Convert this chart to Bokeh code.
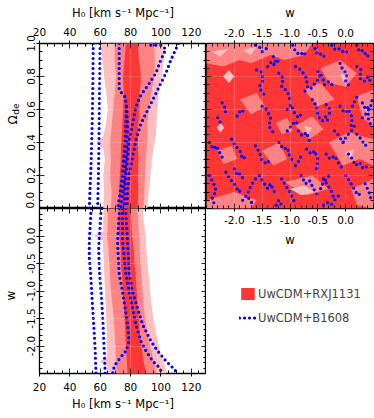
import numpy as np
from bokeh.plotting import figure
from bokeh.models import LinearAxis, FixedTicker, Range1d, Label, Legend, LegendItem
from bokeh.layouts import row, column
from bokeh.embed import file_html
from bokeh.resources import INLINE

FONT = "DejaVu Sans"
LIGHT = "#ffbdbd"
MED = "#ff8383"
DARK = "#ff3636"
BLUE = "#0000ff"

# ---------------- axes ----------------
h0_lim = [20, 130]
om_lim = [0.0, 1.0]
w_lim = [-2.5, 0.5]
h0_ticks = [20, 40, 60, 80, 100, 120]
h0_tick_labels = ["20", "40", "60", "80", "100", "120"]
om_ticks = [0.0, 0.2, 0.4, 0.6, 0.8, 1.0]
om_tick_labels = ["0.0", "0.2", "0.4", "0.6", "0.8", "1.0"]
w_ticks = [-2.0, -1.5, -1.0, -0.5, 0.0]
w_tick_labels = ["-2.0", "-1.5", "-1.0", "-0.5", "0.0"]
h0_minor = [float(v) for v in np.arange(20, 131, 5)]
om_minor = [round(float(v), 2) for v in np.arange(0, 1.001, 0.05)]
w_minor = [round(float(v), 1) for v in np.arange(-2.5, 0.501, 0.1)]
h0_title = "H\u2080 [km s\u207b\u00b9 Mpc\u207b\u00b9]"
om_title = ["\u03a9", "de"]
w_title = "w"

# ---------------- RXJ1131 : H0 vs Omega_de ----------------
rxj_a_light_om = [0.0, 0.1, 0.2, 0.3, 0.36, 0.4, 0.44, 0.5, 0.6, 0.7, 0.8, 0.9, 1.0]
rxj_a_light_lo = [62.0, 62.5, 62.0, 63.0, 62.0, 57.5, 62.0, 63.5, 65.0, 64.0, 62.5, 61.5, 61.0]
rxj_a_light_hi = [91.0, 92.0, 93.0, 94.0, 95.0, 96.0, 96.5, 97.0, 97.5, 98.5, 100.5, 102.0, 101.5]
rxj_a_med_om = [0.0, 0.1, 0.2, 0.3, 0.4, 0.5, 0.6, 0.7, 0.8, 0.9, 1.0]
rxj_a_med_lo = [67.0, 67.5, 66.5, 67.0, 66.5, 67.5, 68.5, 69.5, 70.5, 69.5, 69.5]
rxj_a_med_hi = [88.5, 89.0, 89.5, 90.0, 91.0, 91.0, 92.0, 93.5, 95.5, 96.0, 95.5]
rxj_a_dark_om = [0.0, 0.1, 0.2, 0.3, 0.4, 0.5, 0.6, 0.7, 0.8, 0.9, 1.0]
rxj_a_dark_lo = [71.8, 72.5, 72.8, 73.5, 73.8, 74.5, 75.0, 75.5, 75.0, 76.0, 77.0]
rxj_a_dark_hi = [84.7, 85.0, 84.8, 85.2, 84.7, 85.0, 85.8, 86.0, 86.9, 85.5, 84.7]

# ---------------- RXJ1131 : H0 vs w ----------------
rxj_c_light_w = [0.5, 0.3, 0.08, 0.0, -0.08, -0.3, -0.6, -0.9, -1.2, -1.5, -1.8, -2.1, -2.2, -2.28, -2.36, -2.5]
rxj_c_light_lo = [62.5, 62.0, 62.0, 55.5, 61.8, 62.0, 62.5, 63.0, 63.5, 64.0, 64.5, 64.5, 64.5, 59.5, 64.5, 65.5]
rxj_c_light_hi = [88.0, 88.5, 89.5, 90.0, 90.0, 90.5, 91.5, 92.5, 93.5, 95.0, 97.0, 99.5, 100.5, 101.5, 102.5, 103.5]
rxj_c_med_w = [0.5, 0.25, 0.0, -0.25, -0.5, -0.75, -1.0, -1.25, -1.5, -1.75, -2.0, -2.25, -2.5]
rxj_c_med_lo = [65.0, 65.0, 64.5, 65.5, 66.0, 66.5, 67.0, 68.0, 69.0, 69.5, 70.0, 70.5, 70.5]
rxj_c_med_hi = [84.5, 85.0, 85.5, 86.0, 86.5, 87.0, 88.0, 88.5, 89.5, 91.0, 92.5, 95.0, 97.0]
rxj_c_dark_w = [0.5, 0.25, 0.0, -0.25, -0.5, -0.75, -1.0, -1.25, -1.5, -1.75, -2.0, -2.25, -2.5]
rxj_c_dark_lo = [72.5, 72.0, 72.5, 73.5, 73.5, 74.5, 75.0, 75.5, 76.0, 76.5, 77.0, 77.5, 78.0]
rxj_c_dark_hi = [80.0, 80.5, 81.0, 82.0, 82.5, 83.5, 84.0, 84.5, 85.5, 86.0, 87.0, 88.5, 90.0]

# ---------------- RXJ1131 : w vs Omega_de (mottled) ----------------
rxj_b_med_w = [
    [-2.5, -0.6, -0.75, -1.1, -1.35, -1.7, -1.9, -2.2, -2.5],
    [-0.45, -0.1, 0.2, 0.0, -0.3],
    [0.2, 0.5, 0.5, 0.3],
    [-1.9, -1.6, -1.45, -1.7],
    [-0.9, -0.6, -0.4, -0.65],
    [-0.3, 0.05, 0.5, 0.5, 0.25, -0.05],
    [-2.5, -2.0, -1.6, -1.7, -2.5],
    [-1.1, -0.6, -0.3, -0.7],
    [0.1, 0.5, 0.5, 0.2],
    [-1.5, -1.2, -1.05, -1.3],
    [-2.3, -2.05, -1.95, -2.2],
    [-0.75, -0.45, -0.2, -0.5],
    [-1.25, -1.05, -0.95, -1.15],
]
rxj_b_med_om = [
    [1.0, 1.0, 0.93, 0.90, 0.93, 0.88, 0.90, 0.86, 0.88],
    [0.85, 0.90, 0.82, 0.74, 0.76],
    [0.68, 0.72, 0.50, 0.55],
    [0.66, 0.70, 0.62, 0.57],
    [0.50, 0.56, 0.48, 0.42],
    [0.40, 0.46, 0.42, 0.26, 0.30, 0.26],
    [0.05, 0.10, 0.05, 0.0, 0.0],
    [0.16, 0.20, 0.12, 0.08],
    [0.12, 0.18, 0.0, 0.02],
    [0.35, 0.40, 0.30, 0.26],
    [0.35, 0.38, 0.30, 0.27],
    [0.72, 0.76, 0.66, 0.62],
    [0.52, 0.55, 0.47, 0.45],
]
rxj_b_light_w = [
    [-2.1, -2.0, -2.1, -2.2],
    [-2.25, -2.18, -2.25, -2.32],
    [-0.1, 0.05, -0.05],
    [0.35, 0.45, 0.4],
    [-0.75, -0.6, -0.68],
    [-1.0, -0.75, -0.55, -0.8],
    [-1.85, -1.6, -1.7],
    [0.0, 0.15, 0.1],
    [-2.4, -2.1, -2.25],
]
rxj_b_light_om = [
    [0.84, 0.80, 0.76, 0.80],
    [0.52, 0.49, 0.46, 0.49],
    [0.82, 0.80, 0.77],
    [0.62, 0.60, 0.56],
    [0.50, 0.49, 0.45],
    [0.12, 0.14, 0.10, 0.08],
    [0.96, 0.98, 0.93],
    [0.34, 0.36, 0.30],
    [0.95, 0.97, 0.92],
]

# ---------------- B1608 : H0 vs Omega_de ----------------
b16_a_h0 = [
    [55.4, 55.2, 54.9, 54.5, 53.9, 53.2, 52.8],
    [59.9, 59.7, 59.4, 59.2, 58.8, 58.3],
    [72.5, 72.5, 72.5, 72.5, 76.4, 77.3, 76.4, 75.1, 73.6, 71.6],
    [77.3, 78.0, 77.3, 75.8, 73.6],
    [93.3, 96.6, 100.6, 103.2, 99.9, 96.6, 92.3, 86.8, 83.5, 81.3, 79.1, 78.0, 77.0, 76.2, 75.8],
    [111.5, 106.5, 103.2, 97.7, 92.3, 86.8, 83.5, 81.3, 79.1, 78.0, 77.6],
]
b16_a_om = [
    [1.0, 0.8, 0.6, 0.45, 0.25, 0.1, 0.0],
    [1.0, 0.8, 0.6, 0.4, 0.2, 0.0],
    [1.0, 0.9, 0.82, 0.717, 0.677, 0.616, 0.413, 0.251, 0.13, 0.0],
    [0.616, 0.495, 0.353, 0.17, 0.0],
    [0.99, 0.99, 0.99, 0.965, 0.90, 0.819, 0.758, 0.687, 0.616, 0.515, 0.413, 0.312, 0.211, 0.109, 0.0],
    [1.0, 0.90, 0.819, 0.717, 0.616, 0.515, 0.413, 0.312, 0.211, 0.109, 0.0],
]

# ---------------- B1608 : H0 vs w ----------------
b16_c_h0 = [
    [54.2, 53.9, 52.8, 52.8, 53.7, 55.0, 56.1, 56.7, 57.2],
    [60.8, 60.5, 59.0, 59.4, 60.5, 61.6, 62.6, 63.3],
    [72.5, 72.5, 71.4, 72.5, 74.7, 76.4, 78.0, 79.1, 76.9, 72.5, 69.3, 68.2],
    [74.7, 74.7, 74.7, 76.9, 79.1, 81.3, 83.5, 86.8, 90.1, 94.5, 98.8, 101.0],
    [76.9, 76.9, 78.0, 79.1, 81.3, 84.6, 87.9, 93.4, 97.8, 103.2, 108.7, 110.9],
]
b16_c_w = [
    [0.5, 0.43, -0.1, -0.4, -0.7, -1.31, -1.79, -2.09, -2.5],
    [0.5, 0.43, -0.22, -0.6, -1.01, -1.46, -2.07, -2.5],
    [0.5, 0.41, -0.10, -0.70, -1.01, -1.31, -1.61, -1.91, -2.09, -2.24, -2.36, -2.5],
    [0.5, 0.41, -0.10, -0.70, -1.01, -1.31, -1.61, -1.91, -2.09, -2.27, -2.39, -2.5],
    [0.5, 0.41, -0.10, -0.70, -1.01, -1.31, -1.61, -1.91, -2.09, -2.27, -2.42, -2.5],
]

# ---------------- B1608 : w vs Omega_de (noisy contour fragments) ----------------
b16_b_w = [
    [-1.62, -1.55, -1.5, -1.42], [-1.3, -1.25, -1.2],
    [-0.95, -0.9, -0.82, -0.75, -0.7], [-0.55, -0.5, -0.42, -0.35],
    [-0.25, -0.18, -0.1, -0.02, 0.05], [0.2, 0.25, 0.32, 0.38, 0.45],
    [-1.6, -1.52, -1.48, -1.55, -1.5, -1.42], [-1.2, -1.12, -1.15, -1.05, -1.0],
    [-0.9, -0.8, -0.72, -0.68, -0.75], [-0.5, -0.42, -0.38, -0.3, -0.22],
    [-0.1, -0.05, 0.02, 0.0, 0.08], [0.2, 0.28, 0.25, 0.33, 0.4, 0.46],
    [-2.22, -2.15, -2.18], [-1.95, -1.88, -1.8],
    [-1.5, -1.42, -1.35, -1.38, -1.3], [-1.05, -0.98, -0.92, -0.85, -0.78],
    [-0.6, -0.52, -0.5, -0.42, -0.35, -0.3], [-0.1, -0.02, 0.05, 0.12, 0.1],
    [0.3, 0.36, 0.42, 0.4, 0.46], [-0.85, -0.78, -0.7, -0.65],
    [-0.2, -0.12, -0.05, 0.02], [0.2, 0.28, 0.35, 0.42],
    [-2.45, -2.38, -2.32, -2.25, -2.2], [-2.05, -1.98, -1.9, -1.85, -1.78],
    [-1.62, -1.55, -1.5, -1.42, -1.35], [-1.2, -1.12, -1.05, -1.0, -0.92],
    [-0.7, -0.62, -0.55, -0.5, -0.52], [-0.35, -0.28, -0.2, -0.12, -0.05],
    [0.05, 0.12, 0.18, 0.25, 0.32, 0.4], [-2.45, -2.38, -2.33, -2.4, -2.35],
    [-2.15, -2.08, -2.0, -1.92, -1.85], [-1.85, -1.78, -1.7, -1.65],
    [-1.55, -1.48, -1.4, -1.35, -1.28], [-1.15, -1.08, -1.0, -0.95, -0.9],
    [-0.8, -0.72, -0.65, -0.58, -0.5], [-0.4, -0.32, -0.25, -0.2, -0.12],
    [0.0, 0.08, 0.15, 0.22, 0.3], [0.35, 0.42, 0.47],
    [-1.25, -1.2, -1.15], [-0.4, -0.3, -0.2],
    [-2.3, -2.25], [-0.35, -0.28, -0.3],
    [-1.05, -0.98, -0.9, -0.84], [-0.62, -0.55, -0.48, -0.44],
    [-0.05, 0.02, 0.1, 0.18], [0.3, 0.38, 0.45, 0.48],
    [-1.75, -1.7, -1.62], [-0.9, -0.82, -0.78],
    [-0.45, -0.4, -0.32, -0.26], [0.12, 0.18, 0.24],
    [-2.0, -1.95, -1.9, -1.82], [-1.4, -1.33, -1.26],
]
b16_b_om = [
    [0.99, 0.98, 0.95, 0.97], [0.92, 0.88, 0.90],
    [0.99, 0.95, 0.93, 0.95, 0.91], [0.97, 0.93, 0.94, 0.90],
    [0.99, 0.96, 0.97, 0.94, 0.96], [0.99, 0.95, 0.96, 0.92, 0.94],
    [0.84, 0.83, 0.78, 0.74, 0.70, 0.68], [0.82, 0.79, 0.74, 0.71, 0.66],
    [0.86, 0.84, 0.80, 0.74, 0.70], [0.83, 0.80, 0.75, 0.77, 0.74],
    [0.88, 0.84, 0.82, 0.77, 0.74], [0.86, 0.84, 0.79, 0.77, 0.80, 0.76],
    [0.64, 0.60, 0.56], [0.56, 0.60, 0.58],
    [0.62, 0.60, 0.55, 0.50, 0.46], [0.60, 0.63, 0.58, 0.55, 0.58],
    [0.66, 0.62, 0.56, 0.53, 0.56, 0.51], [0.62, 0.58, 0.60, 0.55, 0.50],
    [0.64, 0.60, 0.62, 0.55, 0.50], [0.47, 0.44, 0.46, 0.41],
    [0.47, 0.44, 0.40, 0.42], [0.45, 0.42, 0.38, 0.40],
    [0.40, 0.36, 0.38, 0.33, 0.30], [0.42, 0.38, 0.35, 0.30, 0.32],
    [0.38, 0.34, 0.29, 0.27, 0.30], [0.40, 0.36, 0.37, 0.31, 0.28],
    [0.36, 0.33, 0.35, 0.30, 0.24], [0.33, 0.30, 0.32, 0.27, 0.24],
    [0.33, 0.30, 0.26, 0.28, 0.24, 0.26], [0.20, 0.16, 0.11, 0.06, 0.02],
    [0.22, 0.18, 0.15, 0.10, 0.12], [0.05, 0.08, 0.04, 0.02],
    [0.20, 0.16, 0.12, 0.15, 0.10], [0.18, 0.14, 0.10, 0.06, 0.03],
    [0.20, 0.15, 0.17, 0.12, 0.08], [0.18, 0.14, 0.10, 0.05, 0.08],
    [0.20, 0.16, 0.12, 0.08, 0.10], [0.15, 0.10, 0.04],
    [0.02, 0.05, 0.02], [0.02, 0.04, 0.01],
    [0.55, 0.52], [0.63, 0.60, 0.55],
    [0.47, 0.50, 0.53, 0.50], [0.73, 0.76, 0.79, 0.83],
    [0.40, 0.44, 0.47, 0.51], [0.55, 0.58, 0.62, 0.66],
    [0.10, 0.14, 0.18], [0.26, 0.30, 0.34],
    [0.12, 0.16, 0.19, 0.22], [0.62, 0.66, 0.70],
    [0.24, 0.20, 0.21, 0.17], [0.86, 0.89, 0.86],
]

legend_labels = ["UwCDM+RXJ1131", "UwCDM+B1608"]


# ---------------- helpers ----------------
def make_panel(xlim, ylim, bl, br, bt, bb):
    p = figure(x_range=Range1d(*xlim), y_range=Range1d(*ylim),
               frame_width=167, frame_height=165,
               min_border_left=bl, min_border_right=br,
               min_border_top=bt, min_border_bottom=bb,
               x_axis_location=None, y_axis_location=None,
               output_backend="svg", toolbar_location=None)
    p.outline_line_color = "black"
    p.outline_line_width = 1.3
    p.background_fill_color = "white"
    p.border_fill_color = "white"
    return p


def style_grid(p, xt, yt):
    for g, t in ((p.xgrid, xt), (p.ygrid, yt)):
        g.ticker = FixedTicker(ticks=t)
        g.grid_line_color = "white"
        g.grid_line_alpha = 0.18
        g.level = "overlay"


def add_axis(p, side, ticks, minor, labels=None, vertical=False,
             standoff=4, title=None, title_standoff=5):
    ax = LinearAxis(ticker=FixedTicker(ticks=ticks, minor_ticks=minor))
    ax.axis_line_color = None
    ax.major_tick_line_color = "black"
    ax.minor_tick_line_color = "black"
    ax.major_tick_in = 5
    ax.minor_tick_in = 3
    ax.minor_tick_out = 0
    if labels is not None:
        ax.major_tick_out = 3
        ax.major_label_overrides = dict(zip(ticks, labels))
        ax.major_label_text_font = FONT
        ax.major_label_text_font_size = "10.5px"
        ax.major_label_text_color = "black"
        ax.major_label_standoff = standoff
        if vertical:
            ax.major_label_orientation = "vertical"
    else:
        ax.major_tick_out = 0
        ax.major_label_overrides = {t: "" for t in ticks}
        ax.major_label_text_font_size = "0px"
        ax.major_label_standoff = 0
    if title is not None:
        ax.axis_label = title
        ax.axis_label_text_font = FONT
        ax.axis_label_text_font_size = "11.5px"
        ax.axis_label_text_font_style = "normal"
        ax.axis_label_text_color = "black"
        ax.axis_label_standoff = title_standoff
    p.add_layout(ax, side)


def dotted(p, xs, ys):
    p.multi_line(xs, ys, line_color=BLUE, line_width=3.2, line_dash="0 5",
                 line_cap="round", line_join="round")


# ---------------- left titles strip ----------------
ft = figure(width=21, height=418, x_range=Range1d(0, 1), y_range=Range1d(0, 1),
            min_border=0, x_axis_location=None, y_axis_location=None,
            output_backend="svg", toolbar_location=None)
ft.outline_line_color = None
ft.xgrid.visible = False
ft.ygrid.visible = False
for (tx, ty, txt, sz) in ((12.8, 298.5, om_title[0], "12px"),
                          (15.8, 309.5, om_title[1], "9px"),
                          (10.5, 123, w_title, "12px")):
    ft.add_layout(Label(x=tx, y=ty, x_units="screen", y_units="screen", text=txt,
                        text_font=FONT, text_font_size=sz, text_color="black",
                        text_align="center", text_baseline="middle", angle=np.pi / 2))

# ---------------- top-left: H0 vs Omega_de ----------------
fa = make_panel(h0_lim, om_lim, 18, 0, 43, 0)
fa.harea(x1=rxj_a_light_lo, x2=rxj_a_light_hi, y=rxj_a_light_om, fill_color=LIGHT)
fa.harea(x1=rxj_a_med_lo, x2=rxj_a_med_hi, y=rxj_a_med_om, fill_color=MED)
fa.harea(x1=rxj_a_dark_lo, x2=rxj_a_dark_hi, y=rxj_a_dark_om, fill_color=DARK)
dotted(fa, b16_a_h0, b16_a_om)
style_grid(fa, h0_ticks, om_ticks)
add_axis(fa, "above", h0_ticks, h0_minor, h0_tick_labels, standoff=5,
         title=h0_title, title_standoff=5)
add_axis(fa, "left", om_ticks, om_minor, om_tick_labels, vertical=True, standoff=2)
add_axis(fa, "below", h0_ticks, h0_minor)
add_axis(fa, "right", om_ticks, om_minor)

# ---------------- top-right: w vs Omega_de ----------------
fb = make_panel(w_lim, om_lim, 0, 1, 43, 40)
fb.quad(left=w_lim[0], right=w_lim[1], bottom=om_lim[0], top=om_lim[1],
        fill_color=DARK, line_color=None)
fb.patches(rxj_b_med_w, rxj_b_med_om, fill_color=MED, line_color=None)
fb.patches(rxj_b_light_w, rxj_b_light_om, fill_color=LIGHT, line_color=None)
dotted(fb, b16_b_w, b16_b_om)
style_grid(fb, w_ticks, om_ticks)
add_axis(fb, "above", w_ticks, w_minor, w_tick_labels, standoff=4,
         title=w_title, title_standoff=6)
add_axis(fb, "below", w_ticks, w_minor, w_tick_labels, standoff=4,
         title=w_title, title_standoff=6)
add_axis(fb, "left", om_ticks, om_minor)
add_axis(fb, "right", om_ticks, om_minor)

# ---------------- bottom-left: H0 vs w ----------------
fc = make_panel(h0_lim, w_lim, 18, 0, 0, 45)
fc.harea(x1=rxj_c_light_lo, x2=rxj_c_light_hi, y=rxj_c_light_w, fill_color=LIGHT)
fc.harea(x1=rxj_c_med_lo, x2=rxj_c_med_hi, y=rxj_c_med_w, fill_color=MED)
fc.harea(x1=rxj_c_dark_lo, x2=rxj_c_dark_hi, y=rxj_c_dark_w, fill_color=DARK)
dotted(fc, b16_c_h0, b16_c_w)
style_grid(fc, h0_ticks, w_ticks)
add_axis(fc, "below", h0_ticks, h0_minor, h0_tick_labels, standoff=6,
         title=h0_title, title_standoff=3)
add_axis(fc, "left", w_ticks, w_minor, w_tick_labels, vertical=True, standoff=2)
add_axis(fc, "above", h0_ticks, h0_minor)
add_axis(fc, "right", w_ticks, w_minor)

# ---------------- legend cell ----------------
fl = figure(width=168, height=170, x_range=Range1d(0, 1), y_range=Range1d(0, 1),
            min_border=0, x_axis_location=None, y_axis_location=None,
            output_backend="svg", toolbar_location=None)
fl.outline_line_color = None
fl.xgrid.visible = False
fl.ygrid.visible = False
r_rxj = fl.harea(x1=rxj_a_dark_lo, x2=rxj_a_dark_hi, y=rxj_a_dark_om, fill_color=DARK)
r_b16 = fl.line(b16_a_h0[5], b16_a_om[5], line_color=BLUE, line_width=3.2,
                line_dash="0 5", line_cap="round")
legend = Legend(items=[LegendItem(label=legend_labels[0], renderers=[r_rxj]),
                       LegendItem(label=legend_labels[1], renderers=[r_b16])],
                location=(33, 94), padding=0, margin=0, spacing=9,
                glyph_width=17, glyph_height=15, label_height=15, label_standoff=2,
                label_text_font=FONT, label_text_font_size="11.5px",
                border_line_color=None, background_fill_alpha=0)
fl.add_layout(legend)

layout = row(ft, column(fa, fc), column(fb, fl))

with open("out.html", "w") as f:
    f.write(file_html(layout, INLINE))
